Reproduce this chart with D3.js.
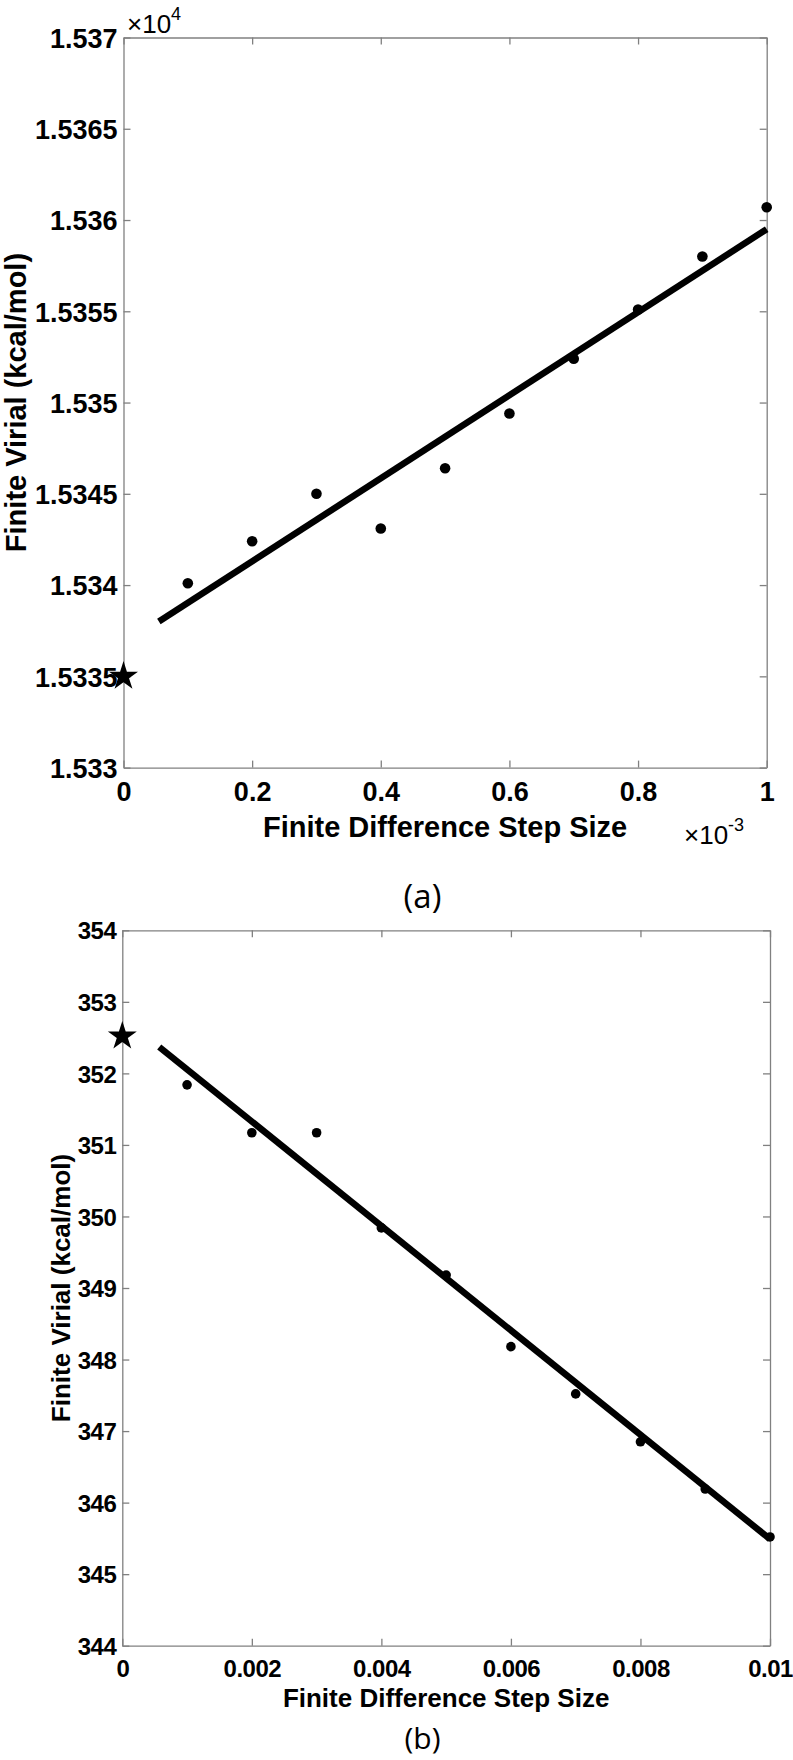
<!DOCTYPE html>
<html>
<head>
<meta charset="utf-8">
<script src="https://cdn.jsdelivr.net/npm/d3@7"></script>
<style>
  html, body { margin: 0; padding: 0; background: #fff; }
  svg { display: block; }
</style>
</head>
<body>
<svg id="chart" width="793" height="1760"></svg>
<script>
// ---------- Panel (a) data (x in units of 1e-3, y in units of 1e4) ----------
const stepA   = [0.1, 0.2, 0.3, 0.4, 0.5, 0.6, 0.7, 0.8, 0.9, 1.0];
const virialA = [1.53401, 1.53424, 1.53450, 1.53431, 1.53464, 1.53494, 1.53524, 1.53551, 1.53580, 1.53607];
const refStepA = [0];
const refVirialA = [1.53350];
const fitStepA = [0.055, 1.0];
const fitVirialA = [1.53380, 1.53595];
const xTicksA = [0, 0.2, 0.4, 0.6, 0.8, 1];
const xTickLabelsA = ["0", "0.2", "0.4", "0.6", "0.8", "1"];
const yTicksA = [1.533, 1.5335, 1.534, 1.5345, 1.535, 1.5355, 1.536, 1.5365, 1.537];
const yTickLabelsA = ["1.533", "1.5335", "1.534", "1.5345", "1.535", "1.5355", "1.536", "1.5365", "1.537"];

// ---------- Panel (b) data ----------
const stepB   = [0.001, 0.002, 0.003, 0.004, 0.005, 0.006, 0.007, 0.008, 0.009, 0.010];
const virialB = [351.84, 351.17, 351.17, 349.84, 349.18, 348.18, 347.52, 346.85, 346.19, 345.52];
const refStepB = [0];
const refVirialB = [352.52];
const fitStepB = [0.00057, 0.010];
const fitVirialB = [352.37, 345.49];
const xTicksB = [0, 0.002, 0.004, 0.006, 0.008, 0.01];
const xTickLabelsB = ["0", "0.002", "0.004", "0.006", "0.008", "0.01"];
const yTicksB = [344, 345, 346, 347, 348, 349, 350, 351, 352, 353, 354];
const yTickLabelsB = ["344", "345", "346", "347", "348", "349", "350", "351", "352", "353", "354"];

const svg = d3.select("#chart");
const AXIS_COLOR = "#808080";
const FONT = "'Liberation Sans', Arial, sans-serif";

function drawPanel(cfg) {
  const g = svg.append("g");
  const x = d3.scaleLinear().domain(cfg.xDomain).range([cfg.left, cfg.right]);
  const y = d3.scaleLinear().domain(cfg.yDomain).range([cfg.bottom, cfg.top]);

  const fmtX = d => cfg.xLabels[cfg.xTicks.indexOf(d)];
  const fmtY = d => cfg.yLabels[cfg.yTicks.indexOf(d)];

  const ax = g.append("g").attr("transform", `translate(0,${cfg.bottom})`)
    .call(d3.axisBottom(x).tickValues(cfg.xTicks).tickFormat(fmtX)
      .tickSizeInner(-cfg.tickLen).tickSizeOuter(0).tickPadding(cfg.xPad));
  const ay = g.append("g").attr("transform", `translate(${cfg.left},0)`)
    .call(d3.axisLeft(y).tickValues(cfg.yTicks).tickFormat(fmtY)
      .tickSizeInner(-cfg.tickLen).tickSizeOuter(0).tickPadding(cfg.yPad));
  const at = g.append("g").attr("transform", `translate(0,${cfg.top})`)
    .call(d3.axisTop(x).tickValues(cfg.xTicks).tickFormat("")
      .tickSizeInner(-cfg.tickLen).tickSizeOuter(0));
  const ar = g.append("g").attr("transform", `translate(${cfg.right},0)`)
    .call(d3.axisRight(y).tickValues(cfg.yTicks).tickFormat("")
      .tickSizeInner(-cfg.tickLen).tickSizeOuter(0));

  [ax, ay, at, ar].forEach(a => {
    a.attr("font-size", cfg.tickFont).attr("font-family", FONT);
    a.selectAll("path.domain").attr("stroke", AXIS_COLOR).attr("stroke-width", 1.3);
    a.selectAll(".tick line").attr("stroke", AXIS_COLOR).attr("stroke-width", 1.3);
    a.selectAll(".tick text").attr("font-size", cfg.tickFont).style("font-family", FONT)
      .style("font-weight", "bold").attr("fill", "#000")
      .style("letter-spacing", cfg.tickSpacing || "0px");
  });
  ax.selectAll(".tick text").attr("dy", "0.72em");
  ay.selectAll(".tick text").attr("dy", "0.36em");

  g.append("path")
    .datum(cfg.fitX.map((d, i) => [d, cfg.fitY[i]]))
    .attr("d", d3.line().x(d => x(d[0])).y(d => y(d[1])))
    .attr("stroke", "#000").attr("stroke-width", cfg.lineW).attr("fill", "none")
    .attr("stroke-linecap", "butt");

  g.selectAll("circle.pt").data(cfg.xs.map((d, i) => [d, cfg.ys[i]]))
    .enter().append("circle").attr("class", "pt")
    .attr("cx", d => x(d[0])).attr("cy", d => y(d[1])).attr("r", cfg.dotR)
    .attr("fill", "#000");

  g.selectAll("path.star").data(cfg.refX.map((d, i) => [d, cfg.refY[i]]))
    .enter().append("path").attr("class", "star")
    .attr("d", d3.symbol().type(d3.symbolStar).size(cfg.starSize))
    .attr("transform", d => `translate(${x(d[0])},${y(d[1])})`)
    .attr("fill", "#000");

  g.append("text")
    .attr("x", (cfg.left + cfg.right) / 2).attr("y", cfg.xLabelY)
    .attr("text-anchor", "middle").attr("font-size", cfg.labelFont)
    .style("font-family", FONT).style("font-weight", "bold")
    .text("Finite Difference Step Size");
  g.append("text")
    .attr("transform", `translate(${cfg.yLabelX},${(cfg.top + cfg.bottom) / 2}) rotate(-90)`)
    .attr("text-anchor", "middle").attr("font-size", cfg.labelFont)
    .style("font-family", FONT).style("font-weight", "bold")
    .text("Finite Virial (kcal/mol)");

  g.append("text")
    .attr("x", cfg.letterX).attr("y", cfg.letterY)
    .attr("text-anchor", "middle").attr("font-size", cfg.letterFont)
    .style("font-family", "'Open Sans', 'Noto Sans', sans-serif")
    .text(cfg.letter);
  return { g, x, y };
}

const pa = drawPanel({
  xDomain: [0, 1], yDomain: [1.533, 1.537],
  left: 123.5, right: 766.7, top: 37.5, bottom: 767.6,
  xTicks: xTicksA, xLabels: xTickLabelsA, yTicks: yTicksA, yLabels: yTickLabelsA,
  tickLen: 7, xPad: 14, yPad: 6, tickFont: 27, labelFont: 29,
  xs: stepA, ys: virialA, refX: refStepA, refY: refVirialA,
  fitX: fitStepA, fitY: fitVirialA, lineW: 6.5, dotR: 5.3, starSize: 260,
  xLabelY: 837, yLabelX: 26, letter: "(a)", letterX: 422.5, letterY: 908, letterFont: 33
});

function exponent(g, xPos, yPos, sup) {
  const t = g.append("text").attr("x", xPos).attr("y", yPos)
    .style("font-family", FONT).style("font-size", "26px").attr("fill", "#000");
  t.append("tspan").text("\u00d710");
  t.append("tspan").style("font-size", "18px").attr("dy", -13).text(sup);
}
exponent(pa.g, 127, 33, "4");
exponent(pa.g, 684, 844, "-3");

drawPanel({
  xDomain: [0, 0.01], yDomain: [344, 354],
  left: 122.3, right: 770, top: 930.3, bottom: 1645.7,
  xTicks: xTicksB, xLabels: xTickLabelsB, yTicks: yTicksB, yLabels: yTickLabelsB,
  tickLen: 7, xPad: 14, yPad: 6, tickFont: 24, tickSpacing: "-0.5px", labelFont: 26,
  xs: stepB, ys: virialB, refX: refStepB, refY: refVirialB,
  fitX: fitStepB, fitY: fitVirialB, lineW: 6.5, dotR: 4.8, starSize: 260,
  xLabelY: 1707, yLabelX: 70, letter: "(b)", letterX: 422.5, letterY: 1749, letterFont: 30
});
</script>
</body>
</html>
